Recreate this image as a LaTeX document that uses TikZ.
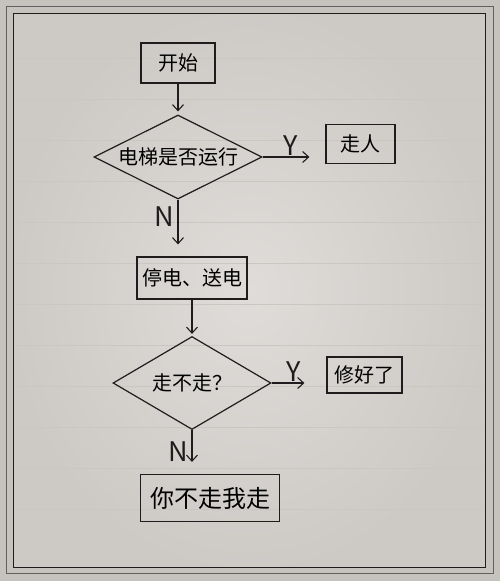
\documentclass[tikz,border=0pt]{standalone}
\usepackage{fontspec}
\setmainfont{Noto Sans CJK SC}
\usetikzlibrary{shapes.geometric,arrows.meta,positioning}

\definecolor{paperdark}{HTML}{C6C2BE}
\definecolor{paperlight}{HTML}{DFDCD9}
\definecolor{ruling}{HTML}{CAC6C2}
\definecolor{ink}{HTML}{1E1C1C}

\tikzset{
    stepbox/.style={draw=ink, line width=1.2pt, inner sep=0pt, font=\fontsize{20}{20}\selectfont},
    decide/.style={diamond, draw=ink, line width=1.2pt, inner sep=0pt, aspect=2, font=\fontsize{20}{20}\selectfont},
    flow/.style={->, draw=ink, line width=1.1pt, >={Straight Barb[length=6pt,width=11pt]}},
    tag/.style={font=\fontsize{27}{27}\selectfont, text=ink, inner sep=0.5pt}
}

\begin{document}
\begin{tikzpicture}[x=1pt, y=-1pt]
    \useasboundingbox (0,0) rectangle (500,581);

    % paper and frame
    \fill[paperdark] (0,0) rectangle (500,581);
    \shade[inner color=paperlight, outer color=paperdark!70!paperlight] (13,13) rectangle (485,567);
    \foreach \y in {58,99,...,549}
        \draw[ruling, line width=0.7pt] (14,\y) -- (484,\y);
    \draw[ink!70, line width=0.8pt] (6,6) rectangle (493,573);
    \draw[ink, line width=1pt] (13,13) rectangle (485,567);

    % steps
    \node[stepbox, minimum width=74pt,  minimum height=40pt] (start) at (178,63)    {开始};
    \node[decide,  minimum width=168pt, minimum height=84pt] (lift)  at (178,157)   {电梯是否运行};
    \node[stepbox, minimum width=69pt,  minimum height=39pt] (leave) at (360.5,144) {走人};
    \node[stepbox, minimum width=110pt, minimum height=42pt] (power) at (192,278)   {停电、送电};
    \node[decide,  minimum width=158pt, minimum height=93pt] (go)    at (192,383)   {走不走？};
    \node[stepbox, minimum width=75pt,  minimum height=36pt] (fixed) at (364.5,375) {修好了};
    \node[stepbox, minimum width=139pt, minimum height=47pt, font=\fontsize{24}{24}\selectfont]
                                                             (you)   at (210,498)   {你不走我走};

    % connectors
    \draw[flow, shorten >=3pt]  (start.south) -- (lift.north);
    \draw[flow, shorten >=16pt] (lift.east)   -- (lift.east -| leave.west)  node[tag, pos=0.45, above] {Y};
    \draw[flow, shorten >=12pt] (lift.south)  -- (lift.south |- power.north) node[tag, pos=0.3, left=3pt] {N};
    \draw[flow, shorten >=2pt]  (power.south) -- (go.north);
    \draw[flow, shorten >=22pt] (go.east)     -- (go.east -| fixed.west)    node[tag, pos=0.4, above] {Y};
    \draw[flow, shorten >=12pt] (go.south)    -- (go.south |- you.north)    node[tag, pos=0.5, left=3pt] {N};

\end{tikzpicture}
\end{document}
